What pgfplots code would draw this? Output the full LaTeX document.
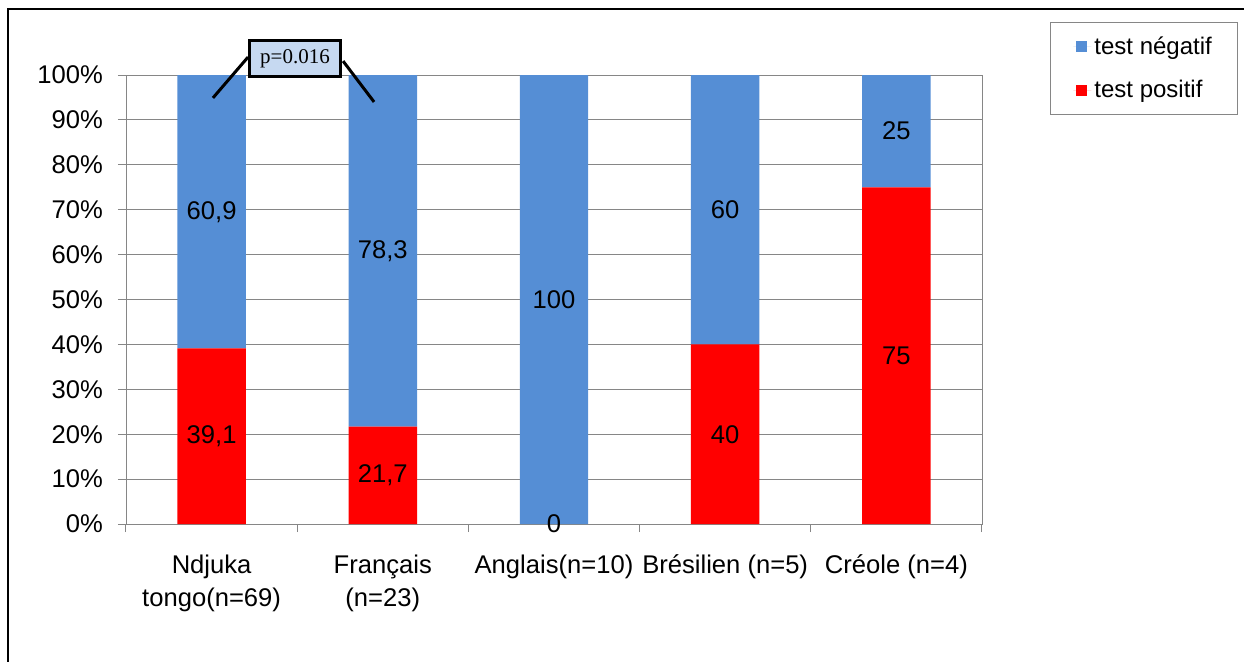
\documentclass[border=0pt]{standalone}
\usepackage{fontspec}
\setmainfont{Liberation Sans}
\newfontfamily\timesfont{Liberation Serif}
\usepackage{pgfplots}
\pgfplotsset{compat=1.18}
\definecolor{neg}{HTML}{558ED5}
\definecolor{pos}{HTML}{FF0000}
\definecolor{gridgray}{HTML}{868686}
\definecolor{boxblue}{HTML}{C6D9F1}
\begin{document}
\begin{tikzpicture}[font=\fontsize{12.8}{15}\selectfont]
\useasboundingbox (-63pt,-68.5pt) rectangle (559pt,262pt);
\draw[line width=1pt] (-59pt,-80pt) -- (-59pt,257.5pt) -- (580pt,257.5pt);
\begin{axis}[
  scale only axis, width=428pt, height=224.5pt,
  ybar stacked, bar width=0.4,
  xmin=-0.5, xmax=4.5, ymin=0, ymax=100,
  xtick={-0.5,0.5,...,4.5},
  x tick label as interval,
  xticklabels={{Ndjuka\\tongo(n=69)},{Français\\(n=23)},{Anglais(n=10)},{Brésilien (n=5)},{Créole (n=4)}},
  xticklabel style={align=center, anchor=north, yshift=-8pt, font=\fontsize{12.8}{16.5}\selectfont},
  yticklabel style={xshift=-4pt},
  ytick={0,10,...,100},
  yticklabel={\pgfmathprintnumber{\tick}\%},
  xtick pos=left, ytick pos=left,
  tick align=outside, major tick length=4pt,
  ymajorgrids, grid style={gridgray, line width=0.5pt},
  axis line style={gridgray},
  tick style={gridgray, line width=0.5pt},
  /pgf/number format/assume math mode=true,
  clip=false,
  reverse legend,
  legend cell align=left,
  legend image code/.code={\fill[#1] (1.5pt,-2.75pt) rectangle (7pt,2.75pt); \path (0pt,0pt) -- (9pt,0pt);},
  legend style={at={(1.0794,1.118)}, anchor=north west, draw=gridgray,
    inner xsep=11.5pt, inner ysep=5.5pt, row sep=8.5pt, line width=0.5pt,
    font=\fontsize{12}{14}\selectfont,
    nodes={inner sep=1.5pt}},
]
\addplot[fill=pos, draw=none] coordinates {(0,39.1) (1,21.7) (2,0) (3,40) (4,75)};
\addlegendentry{test positif}
\addplot[fill=neg, draw=none] coordinates {(0,60.9) (1,78.3) (2,100) (3,60) (4,25)};
\addlegendentry{test négatif}
\end{axis}
\begin{axis}[
  scale only axis, width=428pt, height=224.5pt,
  xmin=-0.5, xmax=4.5, ymin=0, ymax=100,
  hide axis, clip=false,
]
\addplot[draw=none, mark=none, nodes near coords, point meta=explicit symbolic,
  every node near coord/.append style={anchor=center, text=black, inner sep=0pt}]
  table[meta=lab] {
x y lab
0 19.55 39,1
0 69.55 60,9
1 10.85 21,7
1 60.85 78,3
2 0 0
2 50 100
3 20 40
3 70 60
4 37.5 75
4 87.5 25
};
\draw[line width=1.5pt] (axis cs:0.008,94.9) -- (axis cs:0.213,104.0);
\draw[line width=1.5pt] (axis cs:0.768,103.1) -- (axis cs:0.949,94.0);
\node[draw, line width=1.5pt, fill=boxblue, minimum width=45.5pt, minimum height=18pt, inner sep=0pt,
  font=\timesfont\fontsize{10.5}{12}\selectfont, anchor=center] at (axis cs:0.487,103.7) {p=0.016};
\end{axis}
\end{tikzpicture}
\end{document}
